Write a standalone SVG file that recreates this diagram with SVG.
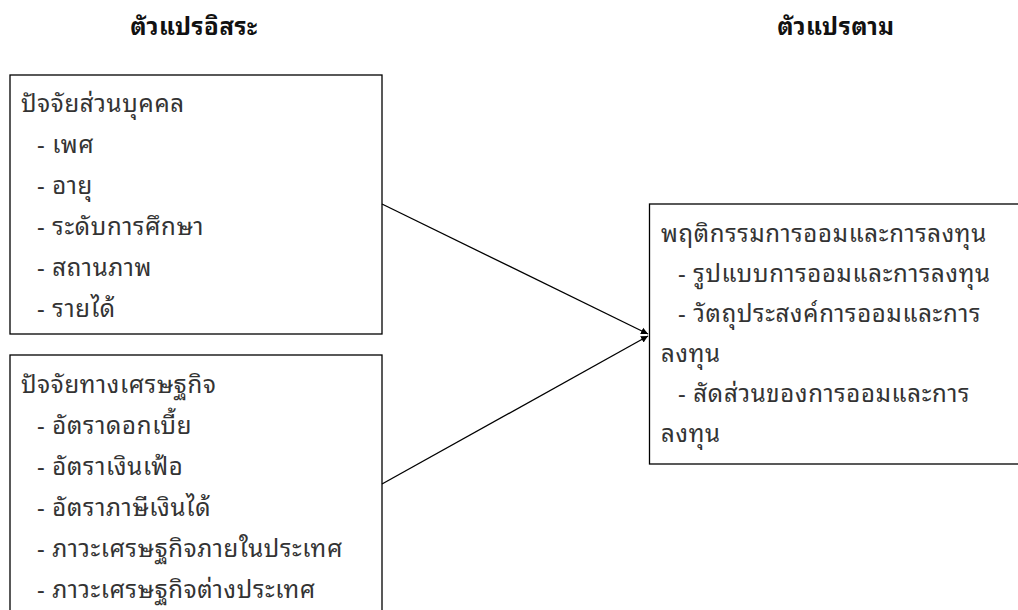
<svg xmlns="http://www.w3.org/2000/svg" width="1018" height="610" viewBox="0 0 1018 610">
<style>
.box{fill:#fff;stroke:#000;stroke-width:1.3}
.t{font-family:"Noto Sans Thai Looped","Noto Sans Thai","Tahoma","Noto Sans",sans-serif;font-size:24px;letter-spacing:0.7px;fill:#333}
.h{font-family:"Noto Sans Thai Looped","Noto Sans Thai","Tahoma","Noto Sans",sans-serif;font-size:24px;letter-spacing:0.5px;font-weight:bold;fill:#111;text-anchor:middle}
.c{stroke:#000;stroke-width:1.3;fill:none}
</style>
<defs>
<marker id="arr" markerWidth="8" markerHeight="8" refX="7" refY="4" orient="auto" markerUnits="userSpaceOnUse">
<path d="M0,0.5 L7,4 L0,7.5 Z" fill="#000"/>
</marker>
</defs>
<rect width="1018" height="610" fill="#fff"/>
<text class="h" x="194" y="35">ตัวแปรอิสระ</text>
<text class="h" x="836" y="35">ตัวแปรตาม</text>
<g id="personal">
<rect class="box" x="10" y="75" width="372" height="259"/>
<text class="t" x="21" y="112">ปัจจัยส่วนบุคคล</text>
<text class="t" x="37" y="153">- เพศ</text>
<text class="t" x="37" y="194">- อายุ</text>
<text class="t" x="37" y="235">- ระดับการศึกษา</text>
<text class="t" x="37" y="276">- สถานภาพ</text>
<text class="t" x="37" y="317">- รายได้</text>
</g>
<g id="economic">
<rect class="box" x="10" y="355" width="372" height="270"/>
<text class="t" x="21" y="393">ปัจจัยทางเศรษฐกิจ</text>
<text class="t" x="37" y="434">- อัตราดอกเบี้ย</text>
<text class="t" x="37" y="475">- อัตราเงินเฟ้อ</text>
<text class="t" x="37" y="516">- อัตราภาษีเงินได้</text>
<text class="t" x="37" y="557">- ภาวะเศรษฐกิจภายในประเทศ</text>
<text class="t" x="37" y="598">- ภาวะเศรษฐกิจต่างประเทศ</text>
</g>
<g id="behavior">
<rect class="box" x="649.5" y="204" width="380" height="260"/>
<text class="t" x="661" y="242">พฤติกรรมการออมและการลงทุน</text>
<text class="t" x="678" y="282">- รูปแบบการออมและการลงทุน</text>
<text class="t" x="678" y="322">- วัตถุประสงค์การออมและการ</text>
<text class="t" x="661" y="362">ลงทุน</text>
<text class="t" x="678" y="402">- สัดส่วนของการออมและการ</text>
<text class="t" x="661" y="442">ลงทุน</text>
</g>
<g id="connectors">
<line class="c" x1="382" y1="204" x2="648" y2="334" marker-end="url(#arr)"/>
<line class="c" x1="382" y1="484" x2="648" y2="336" marker-end="url(#arr)"/>
</g>
</svg>
